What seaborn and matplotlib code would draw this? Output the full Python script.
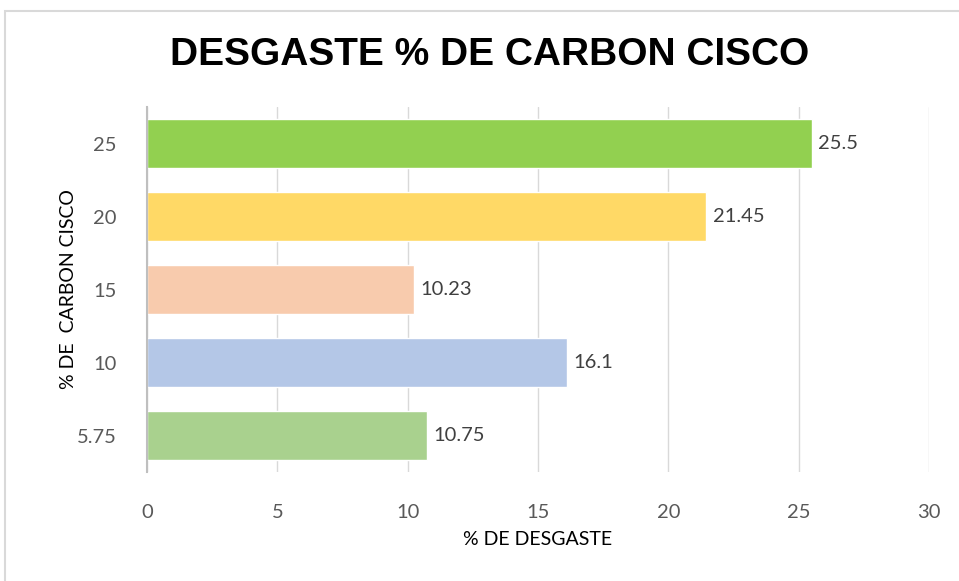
import matplotlib

matplotlib.use("Agg")
import matplotlib.pyplot as plt
import pandas as pd
import seaborn as sns
from matplotlib.patches import Rectangle

# data
carbon = ["25", "20", "15", "10", "5.75"]
desgaste = [25.5, 21.45, 10.23, 16.1, 10.75]
value_labels = ["25.5", "21.45", "10.23", "16.1", "10.75"]
bar_colors = ["#92D050", "#FFD966", "#F8CBAD", "#B4C7E7", "#A9D18E"]
x_ticks = [0, 5, 10, 15, 20, 25, 30]

df = pd.DataFrame({"carbon": carbon, "desgaste": desgaste})

sns.set_style("white")
plt.rcParams["font.family"] = ["Lato", "DejaVu Sans"]

fig = plt.figure(figsize=(9.59, 5.81), dpi=100)
ax = fig.add_axes([0.1533, 0.1876, 0.8154, 0.6282])

sns.barplot(
    data=df,
    x="desgaste",
    y="carbon",
    hue="carbon",
    order=carbon,
    hue_order=carbon,
    palette=bar_colors,
    orient="h",
    width=0.66,
    legend=False,
    saturation=1,
    ax=ax,
)

for patch, txt in zip(ax.patches, value_labels):
    ax.text(
        patch.get_width() + 0.25,
        patch.get_y() + patch.get_height() / 2,
        txt,
        va="center",
        ha="left",
        fontsize=14.5,
        color="#404040",
    )

ax.set_xlim(0, 30)
ax.set_xticks(x_ticks)
ax.set_xticklabels([str(t) for t in x_ticks])
ax.grid(axis="x", color="#d9d9d9", linewidth=1)
ax.set_axisbelow(True)
for side in ["top", "right", "bottom"]:
    ax.spines[side].set_visible(False)
ax.spines["left"].set_color("#bfbfbf")
ax.spines["left"].set_linewidth(1.5)
ax.tick_params(axis="x", length=0, pad=23, labelsize=14.5, labelcolor="#595959")
ax.tick_params(axis="y", length=0, pad=22, labelsize=14.5, labelcolor="#595959")

ax.set_xlabel("% DE DESGASTE", fontsize=14, color="black", labelpad=7)
ax.set_ylabel("% DE  CARBON CISCO", fontsize=14, color="black", labelpad=0)

fig.text(
    0.511,
    0.906,
    "DESGASTE % DE CARBON CISCO",
    ha="center",
    va="center",
    fontsize=28,
    fontweight="bold",
    family="Liberation Sans",
    color="black",
)

# light chart-area border, as in the spreadsheet export
fig.patches.append(
    Rectangle(
        (5 / 959, -0.05),
        1.1,
        1.05 - 11 / 581,
        transform=fig.transFigure,
        fill=False,
        edgecolor="#d9d9d9",
        linewidth=1.5,
    )
)

fig.savefig("out.png", dpi=100)
